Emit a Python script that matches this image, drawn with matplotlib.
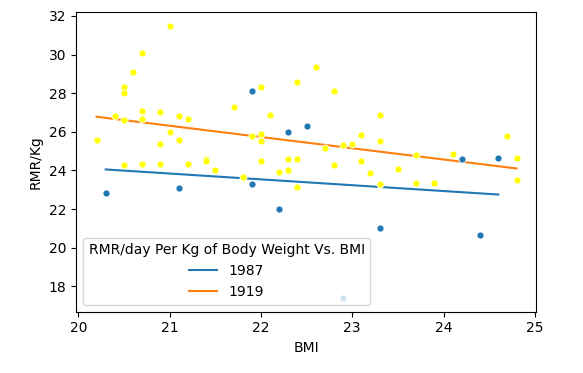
import matplotlib

matplotlib.use("Agg")
import matplotlib.pyplot as plt

# 1987 data (blue points)
bmi_1987 = [20.3, 21.1, 21.9, 21.9, 22.2, 22.3, 22.5, 22.9, 23.3, 24.2, 24.4, 24.6]
rmr_1987 = [22.85, 23.1, 23.3, 28.1, 22.0, 26.0, 26.3, 17.4, 21.0, 24.6, 20.65, 24.65]

# 1919 data (yellow points)
bmi_1919 = [21.0, 20.7, 20.6, 20.5, 20.5, 22.0, 22.4, 22.6, 21.7, 20.7, 20.9,
            20.4, 20.5, 20.7, 21.1, 21.2, 22.1, 21.0, 21.1, 20.2, 20.9, 21.9,
            22.0, 22.0, 20.5, 20.7, 20.9, 21.2, 21.4, 21.4, 21.5, 21.8, 22.0,
            22.2, 22.3, 22.3, 22.4, 22.4, 22.8, 23.3, 23.1, 23.3, 22.9, 23.0,
            22.7, 22.8, 23.1, 23.2, 23.5, 23.7, 24.1, 24.7, 24.8, 24.8, 23.3,
            23.7, 23.9]
rmr_1919 = [31.5, 30.1, 29.1, 28.3, 28.0, 28.3, 28.6, 29.35, 27.3, 27.1, 27.05,
            26.8, 26.6, 26.65, 26.8, 26.65, 26.85, 26.0, 25.6, 25.55, 25.35, 25.8,
            25.9, 25.5, 24.3, 24.35, 24.35, 24.35, 24.6, 24.5, 24.0, 23.65, 24.5,
            23.9, 24.6, 24.0, 24.6, 23.15, 28.1, 26.85, 25.85, 25.5, 25.3, 25.35,
            25.15, 24.3, 24.5, 23.85, 24.05, 24.8, 24.85, 25.8, 24.65, 23.5, 23.3,
            23.35, 23.35]

# trend lines (end points)
trend_x_1987 = [20.3, 24.6]
trend_y_1987 = [24.05, 22.75]
trend_x_1919 = [20.2, 24.8]
trend_y_1919 = [26.78, 24.1]

fig = plt.figure(figsize=(5.83, 3.73), dpi=100)
ax = fig.add_axes([0.1304, 0.1643, 0.789, 0.8027])

ax.plot(trend_x_1987, trend_y_1987, color='#1f77b4', label='1987', zorder=2)
ax.plot(trend_x_1919, trend_y_1919, color='#ff7f0e', label='1919', zorder=2)

ax.scatter(bmi_1919, rmr_1919, s=26, color='yellow', edgecolor='white',
           linewidth=0.6, zorder=3)
ax.scatter(bmi_1987, rmr_1987, s=26, color='#1f77b4', edgecolor='white',
           linewidth=0.6, zorder=3)

ax.set_xlim(19.975, 25.013)
ax.set_ylim(16.68, 32.19)
ax.set_xticks([20, 21, 22, 23, 24, 25])
ax.set_yticks([18, 20, 22, 24, 26, 28, 30, 32])
ax.set_xlabel('BMI')
ax.set_ylabel('RMR/Kg')

leg = ax.legend(title='RMR/day Per Kg of Body Weight Vs. BMI', loc='lower left')
leg.set_zorder(5)

fig.savefig('out.png', dpi=100)
